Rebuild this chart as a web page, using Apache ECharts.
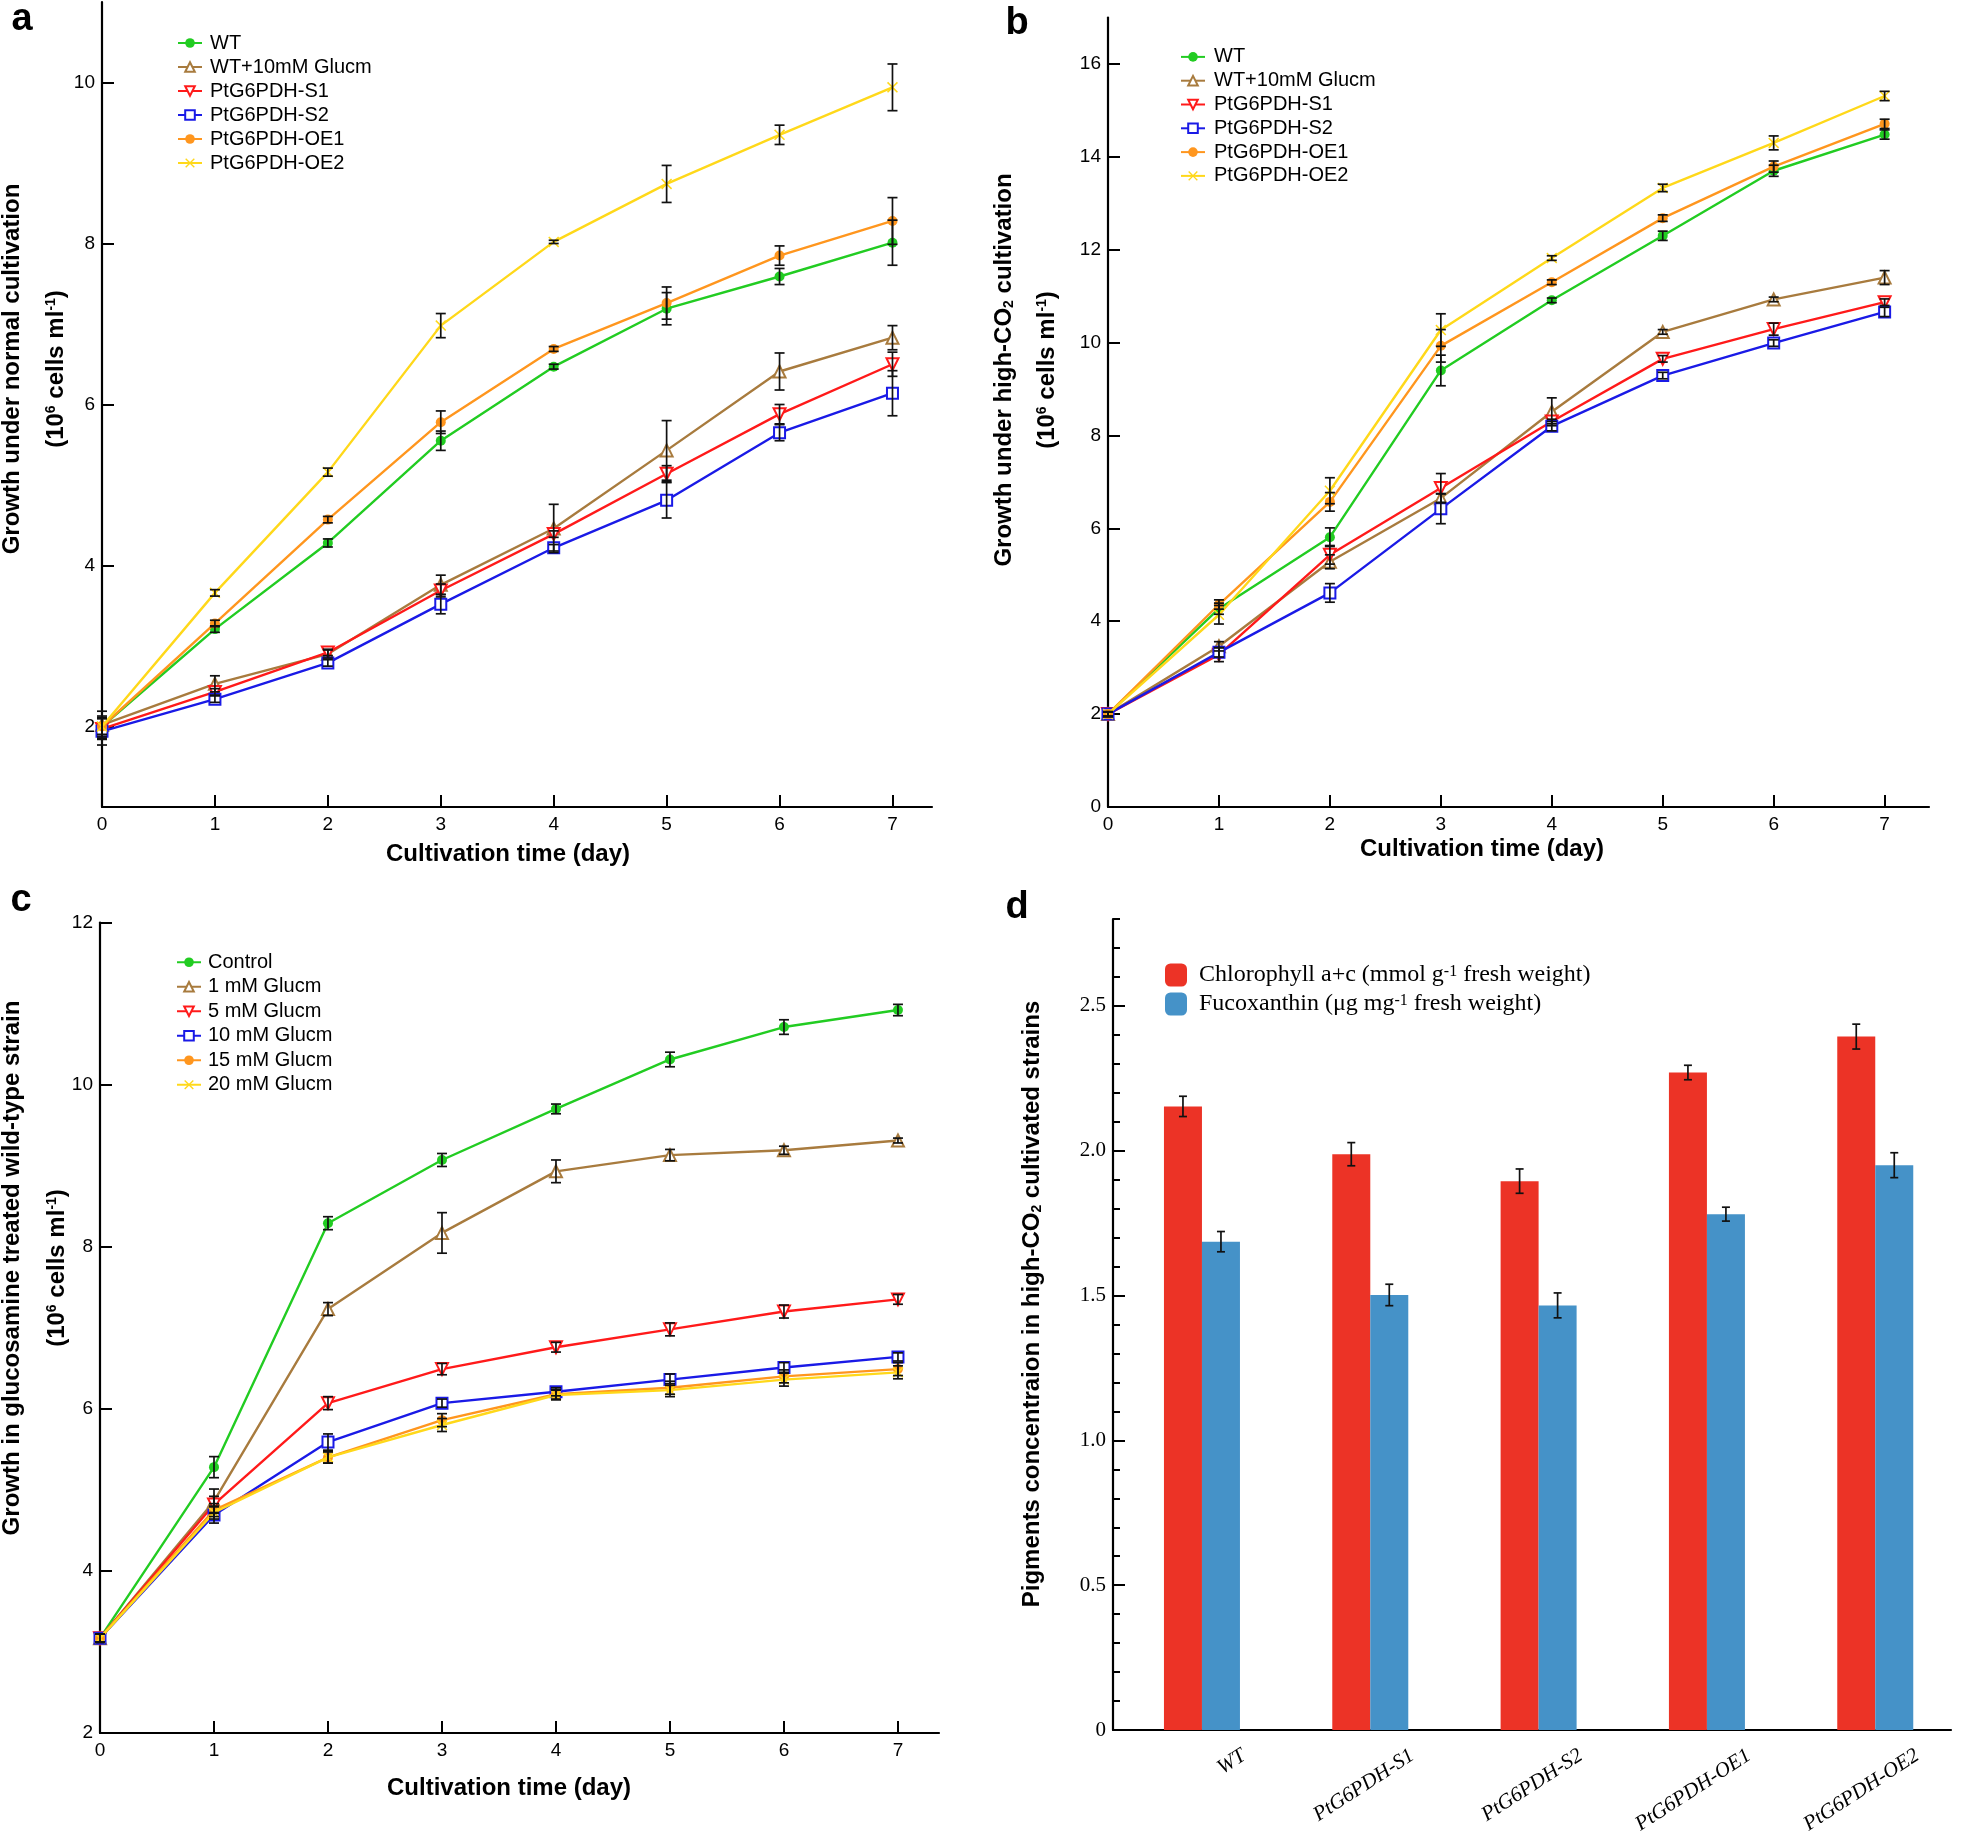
<!DOCTYPE html>
<html>
<head>
<meta charset="utf-8">
<script src="https://cdn.jsdelivr.net/npm/echarts@6/dist/echarts.min.js"></script>
<style>
html,body{margin:0;padding:0;background:#fff;}
#chart{width:1961px;height:1831px;}
</style>
</head>
<body>
<div id="chart"></div>
<script>
// ---------------- DATA ----------------
const days = [0, 1, 2, 3, 4, 5, 6, 7];
const xTickLabels = [0, 1, 2, 3, 4, 5, 6, 7];

// Panel a: growth under normal cultivation
const namesAB = ['WT', 'WT+10mM Glucm', 'PtG6PDH-S1', 'PtG6PDH-S2', 'PtG6PDH-OE1', 'PtG6PDH-OE2'];
const aWT    = [2.00, 3.21, 4.28, 5.55, 6.47, 7.19, 7.59, 8.01];
const aGlu   = [2.02, 2.53, 2.90, 3.76, 4.46, 5.43, 6.41, 6.83];
const aS1    = [1.97, 2.43, 2.92, 3.69, 4.39, 5.14, 5.88, 6.50];
const aS2    = [1.94, 2.34, 2.79, 3.52, 4.22, 4.81, 5.65, 6.14];
const aOE1   = [2.00, 3.28, 4.57, 5.78, 6.69, 7.26, 7.85, 8.28];
const aOE2   = [2.00, 3.66, 5.16, 6.98, 8.02, 8.74, 9.35, 9.94];
const aWTe   = [0.13, 0.04, 0.05, 0.12, 0.03, 0.20, 0.10, 0.28];
const aGlue  = [0.17, 0.10, 0.05, 0.12, 0.30, 0.37, 0.23, 0.15];
const aS1e   = [0.13, 0.04, 0.04, 0.08, 0.04, 0.10, 0.12, 0.15];
const aS2e   = [0.17, 0.04, 0.04, 0.12, 0.04, 0.22, 0.10, 0.28];
const aOE1e  = [0.10, 0.04, 0.04, 0.14, 0.03, 0.20, 0.12, 0.29];
const aOE2e  = [0.10, 0.04, 0.05, 0.15, 0.02, 0.23, 0.12, 0.29];
const aYTicks = [2, 4, 6, 8, 10];

// Panel b: growth under high-CO2 cultivation
const bWT    = [2.00, 4.27, 5.81, 9.40, 10.91, 12.30, 13.70, 14.48];
const bGlu   = [2.00, 3.46, 5.28, 6.65, 8.51, 10.23, 10.93, 11.40];
const bS1    = [2.00, 3.28, 5.43, 6.87, 8.30, 9.65, 10.29, 10.87];
const bS2    = [2.00, 3.33, 4.61, 6.42, 8.20, 9.29, 9.99, 10.66];
const bOE1   = [2.00, 4.36, 6.57, 9.93, 11.30, 12.68, 13.79, 14.71];
const bOE2   = [2.00, 4.14, 6.81, 10.27, 11.82, 13.33, 14.30, 15.31];
const bWTe   = [0.05, 0.12, 0.20, 0.33, 0.05, 0.10, 0.12, 0.10];
const bGlue  = [0.05, 0.10, 0.15, 0.10, 0.30, 0.05, 0.05, 0.15];
const bS1e   = [0.05, 0.15, 0.20, 0.31, 0.05, 0.07, 0.13, 0.07];
const bS2e   = [0.05, 0.10, 0.20, 0.32, 0.10, 0.07, 0.07, 0.10];
const bOE1e  = [0.05, 0.10, 0.20, 0.35, 0.05, 0.07, 0.12, 0.10];
const bOE2e  = [0.05, 0.20, 0.28, 0.35, 0.05, 0.08, 0.15, 0.10];
const bYTicks = [0, 2, 4, 6, 8, 10, 12, 14, 16];

// Panel c: glucosamine treated wild-type
const namesC = ['Control', '1 mM Glucm', '5 mM Glucm', '10 mM Glucm', '15 mM Glucm', '20 mM Glucm'];
const cCtl   = [3.17, 5.28, 8.29, 9.07, 9.70, 10.31, 10.71, 10.92];
const c1     = [3.17, 4.86, 7.23, 8.17, 8.93, 9.13, 9.19, 9.31];
const c5     = [3.17, 4.82, 6.07, 6.49, 6.76, 6.98, 7.20, 7.35];
const c10    = [3.17, 4.69, 5.59, 6.07, 6.21, 6.36, 6.51, 6.64];
const c15    = [3.17, 4.75, 5.40, 5.86, 6.18, 6.26, 6.40, 6.49];
const c20    = [3.17, 4.72, 5.40, 5.80, 6.17, 6.23, 6.36, 6.45];
const cCtle  = [0.05, 0.13, 0.08, 0.08, 0.06, 0.09, 0.09, 0.07];
const c1e    = [0.05, 0.15, 0.08, 0.25, 0.14, 0.07, 0.05, 0.03];
const c5e    = [0.05, 0.10, 0.08, 0.07, 0.06, 0.08, 0.08, 0.06];
const c10e   = [0.05, 0.10, 0.10, 0.05, 0.05, 0.07, 0.06, 0.05];
const c15e   = [0.05, 0.08, 0.07, 0.08, 0.06, 0.08, 0.08, 0.08];
const c20e   = [0.05, 0.08, 0.07, 0.08, 0.06, 0.08, 0.08, 0.08];
const cYTicks = [2, 4, 6, 8, 10, 12];

// Panel d: pigments
const catsD = ['WT', 'PtG6PDH-S1', 'PtG6PDH-S2', 'PtG6PDH-OE1', 'PtG6PDH-OE2'];
const namesD = ['Chlorophyll a+c (mmol g-1 fresh weight)', 'Fucoxanthin (μg mg-1 fresh weight)'];
const chlD   = [2.153, 1.988, 1.895, 2.270, 2.394];
const chlE   = [0.035, 0.040, 0.042, 0.025, 0.043];
const fucD   = [1.686, 1.502, 1.466, 1.781, 1.950];
const fucE   = [0.035, 0.037, 0.043, 0.024, 0.043];
const dYTicks = [0, 0.5, 1.0, 1.5, 2.0, 2.5];

// ---------------- STYLE ----------------
const SANS = "'Liberation Sans', Arial, sans-serif";
const SERIF = "'Liberation Serif', 'Times New Roman', serif";
const X_PATH = 'path://M0,1L1,0L5,4L9,0L10,1L6,5L10,9L9,10L5,6L1,10L0,9L4,5Z';
const lineStyles = [
  {color: '#22cc22', symbol: 'circle', size: 10, hollow: false, rotate: 0},
  {color: '#a87b3e', symbol: 'triangle', size: 12, hollow: true, rotate: 0},
  {color: '#ff1a1a', symbol: 'triangle', size: 12, hollow: true, rotate: 180},
  {color: '#1a1ae6', symbol: 'rect', size: 11, hollow: true, rotate: 0},
  {color: '#ff961e', symbol: 'circle', size: 10, hollow: false, rotate: 0},
  {color: '#ffd81a', symbol: X_PATH, size: 11, hollow: false, rotate: 0}
];
const RED = '#ec3326', BLUE = '#4592c8';
const BAR_W = 38;

const zip = (xs, ys) => xs.map((x, i) => [x, ys[i]]);
const zip3 = (xs, ys, es) => xs.map((x, i) => [x, ys[i], es[i]]);

function errRender(capHalf, dx) {
  return function (params, api) {
    const x = api.value(0), y = api.value(1), e = api.value(2);
    const p1 = api.coord([x, y + e]);
    const p2 = api.coord([x, y - e]);
    const ox = p1[0] + dx;
    const st = {stroke: '#111', lineWidth: 1.7};
    return {type: 'group', children: [
      {type: 'line', shape: {x1: ox, y1: p1[1], x2: ox, y2: p2[1]}, style: st},
      {type: 'line', shape: {x1: ox - capHalf, y1: p1[1], x2: ox + capHalf, y2: p1[1]}, style: st},
      {type: 'line', shape: {x1: ox - capHalf, y1: p2[1], x2: ox + capHalf, y2: p2[1]}, style: st}
    ]};
  };
}

const series = [];
function addLinePanel(idx, names, vals, errs) {
  const errData = [];
  names.forEach((nm, k) => {
    const s = lineStyles[k];
    series.push({
      type: 'line', name: nm, xAxisIndex: idx, yAxisIndex: idx,
      data: zip(days, vals[k]),
      symbol: s.symbol, symbolSize: s.size, symbolRotate: s.rotate,
      showSymbol: true, showAllSymbol: true, animation: false,
      lineStyle: {color: s.color, width: 2.4},
      itemStyle: s.hollow ? {color: '#ffffff', borderColor: s.color, borderWidth: 2}
                          : {color: s.color, borderColor: s.color, borderWidth: 0},
      z: 2 + k * 0.01
    });
    zip3(days, vals[k], errs[k]).forEach(d => errData.push(d));
  });
  series.push({
    type: 'custom', xAxisIndex: idx, yAxisIndex: idx, clip: false, z: 5,
    renderItem: errRender(5, 0), data: errData, animation: false, silent: true
  });
}
addLinePanel(0, namesAB, [aWT, aGlu, aS1, aS2, aOE1, aOE2], [aWTe, aGlue, aS1e, aS2e, aOE1e, aOE2e]);
addLinePanel(1, namesAB, [bWT, bGlu, bS1, bS2, bOE1, bOE2], [bWTe, bGlue, bS1e, bS2e, bOE1e, bOE2e]);
addLinePanel(2, namesC, [cCtl, c1, c5, c10, c15, c20], [cCtle, c1e, c5e, c10e, c15e, c20e]);

const catIdx = catsD.map((c, i) => i);
series.push({type: 'bar', name: namesD[0], xAxisIndex: 3, yAxisIndex: 3, data: zip(catIdx, chlD),
  barWidth: BAR_W, barGap: '0%', itemStyle: {color: RED}, animation: false});
series.push({type: 'bar', name: namesD[1], xAxisIndex: 3, yAxisIndex: 3, data: zip(catIdx, fucD),
  barWidth: BAR_W, barGap: '0%', itemStyle: {color: BLUE}, animation: false});
series.push({type: 'custom', xAxisIndex: 3, yAxisIndex: 3, clip: false, z: 5, silent: true,
  renderItem: errRender(4, -BAR_W / 2), data: zip3(catIdx, chlD, chlE), animation: false});
series.push({type: 'custom', xAxisIndex: 3, yAxisIndex: 3, clip: false, z: 5, silent: true,
  renderItem: errRender(4, BAR_W / 2), data: zip3(catIdx, fucD, fucE), animation: false});

// ---------------- AXES ----------------
const axLine = {show: true, onZero: false, lineStyle: {color: '#000', width: 2.2}};
function xLineAxis(grid, max) {
  return {type: 'value', gridIndex: grid, position: 'bottom', min: 0, max: max,
    axisLine: axLine, splitLine: {show: false},
    axisTick: {show: true, inside: true, length: 12, customValues: xTickLabels, lineStyle: {color: '#000', width: 2}},
    axisLabel: {customValues: xTickLabels, fontFamily: SANS, fontSize: 19, color: '#000', margin: 8}};
}
function yLineAxis(grid, min, max, ticks) {
  return {type: 'value', gridIndex: grid, position: 'left', min: min, max: max,
    axisLine: axLine, splitLine: {show: false},
    axisTick: {show: true, inside: true, length: 12, customValues: ticks, lineStyle: {color: '#000', width: 2}},
    axisLabel: {customValues: ticks, fontFamily: SANS, fontSize: 19, color: '#000', margin: 7}};
}
const LABEL_SHIFT = 0.25;
const xAxes = [
  xLineAxis(0, 7.35), xLineAxis(1, 7.4), xLineAxis(2, 7.36),
  {type: 'value', gridIndex: 3, position: 'bottom', min: -0.5285, max: 4.45,
    axisLine: axLine, splitLine: {show: false}, axisTick: {show: false},
    axisLabel: {customValues: catIdx.map(i => i + LABEL_SHIFT),
      formatter: v => catsD[Math.round(v - LABEL_SHIFT)],
      rotate: 33, margin: 24, fontFamily: SERIF, fontStyle: 'italic', fontSize: 21, color: '#000'}}
];
const yAxes = [
  yLineAxis(0, 1, 11, aYTicks), yLineAxis(1, 0, 17, bYTicks), yLineAxis(2, 2, 12, cYTicks),
  {type: 'value', gridIndex: 3, position: 'left', offset: 0, min: 0, max: 2.8, interval: 0.1,
    axisLine: axLine, splitLine: {show: false},
    axisTick: {show: true, inside: true, length: 7, lineStyle: {color: '#000', width: 2}},
    axisLabel: {show: false}},
  {type: 'value', gridIndex: 3, position: 'left', offset: 0, min: 0, max: 2.8,
    axisLine: {show: false, onZero: false}, splitLine: {show: false},
    axisTick: {show: true, inside: true, length: 12, customValues: dYTicks, lineStyle: {color: '#000', width: 2}},
    axisLabel: {customValues: dYTicks, formatter: v => (v === 0 ? '0' : v.toFixed(1)),
      fontFamily: SERIF, fontSize: 21, color: '#000', margin: 7}}
];

// ---------------- LEGENDS ----------------
function lineLegend(names, left, top, lh, pad) {
  return {orient: 'vertical', left: left, top: top, padding: 0, itemGap: 0,
    itemWidth: 24, itemHeight: 12, data: names, selectedMode: false,
    textStyle: {fontFamily: SANS, fontSize: 20, color: '#000', lineHeight: lh, padding: [0, 0, 0, pad]}};
}
const legends = [
  lineLegend(namesAB, 177, 31, 24, 3),
  lineLegend(namesAB, 1180, 45, 23.8, 4),
  lineLegend(namesC, 176, 950, 24.5, 2),
  {orient: 'vertical', left: 1165, top: 963, padding: 0, itemGap: 5, itemWidth: 22, itemHeight: 23,
    icon: 'roundRect', data: namesD, selectedMode: false,
    formatter: n => n.replace('-1', '{sup|-1}'),
    textStyle: {fontFamily: SERIF, fontSize: 24, color: '#000', lineHeight: 23, padding: [0, 0, 0, 7],
      rich: {sup: {fontFamily: SERIF, fontSize: 16, color: '#000', verticalAlign: 'top', lineHeight: 23}}}}
];

// ---------------- TEXTS ----------------
const TB = 'bold 24px ' + SANS;
const richBold = {
  sup: {font: 'bold 14px ' + SANS, verticalAlign: 'top', fill: '#000'},
  sub: {font: 'bold 14px ' + SANS, verticalAlign: 'bottom', fill: '#000'}
};
function vText(x, y, text) {
  return {type: 'text', x: x, y: y, rotation: Math.PI / 2, silent: true,
    style: {text: text, font: TB, fill: '#000', align: 'center', verticalAlign: 'middle', rich: richBold}};
}
function hText(x, y, text, font) {
  return {type: 'text', x: x, y: y, silent: true,
    style: {text: text, font: font || TB, fill: '#000', align: 'center', verticalAlign: 'middle'}};
}
const PANEL_FONT = 'bold 38px ' + SANS;
const graphics = [
  hText(22, 20, 'a', PANEL_FONT), hText(1017, 24, 'b', PANEL_FONT),
  hText(21, 901, 'c', PANEL_FONT), hText(1017, 908, 'd', PANEL_FONT),
  vText(12, 369, 'Growth under normal cultivation'),
  vText(56, 369, '(10{sup|6} cells ml{sup|-1})'),
  vText(1004, 370, 'Growth under high-CO{sub|2} cultivation'),
  vText(1047, 370, '(10{sup|6} cells ml{sup|-1})'),
  vText(12, 1268, 'Growth in glucosamine treated wild-type strain'),
  vText(57, 1268, '(10{sup|6} cells ml{sup|-1})'),
  vText(1032, 1304, 'Pigments concentraion in high-CO{sub|2} cultivated strains'),
  hText(508, 854, 'Cultivation time (day)'),
  hText(1482, 849, 'Cultivation time (day)'),
  hText(509, 1788, 'Cultivation time (day)')
];

const option = {
  backgroundColor: '#fff',
  animation: false,
  grid: [
    {left: 102, top: 2, width: 830, height: 805, outerBoundsMode: 'none', containLabel: false},
    {left: 1108, top: 17.5, width: 821, height: 789.5, outerBoundsMode: 'none', containLabel: false},
    {left: 100, top: 922.5, width: 839, height: 810.5, outerBoundsMode: 'none', containLabel: false},
    {left: 1113, top: 919, width: 838, height: 811, outerBoundsMode: 'none', containLabel: false}
  ],
  xAxis: xAxes,
  yAxis: yAxes,
  legend: legends,
  series: series,
  graphic: graphics
};
const chart = echarts.init(document.getElementById('chart'), null, {renderer: 'canvas'});
chart.setOption(option);
</script>
</body>
</html>
